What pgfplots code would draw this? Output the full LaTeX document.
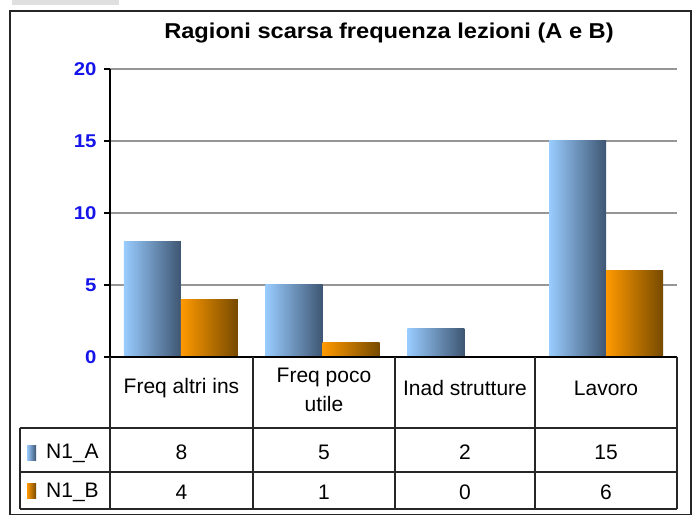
\documentclass[border=0pt]{standalone}
\usepackage{pgfplots}
\pgfplotsset{compat=1.18}
\usepackage{fontspec}
\setmainfont{Liberation Sans}
\newfontfamily\stretchfont{Liberation Sans}[FakeStretch=1.1]
\definecolor{blueL}{RGB}{153,204,255}
\definecolor{blueD}{RGB}{62,86,114}
\definecolor{orL}{RGB}{255,153,0}
\definecolor{orD}{RGB}{118,74,0}
\definecolor{tickblue}{RGB}{20,20,235}
\definecolor{gridgray}{RGB}{150,150,150}
\begin{document}
\begin{tikzpicture}[x=1pt,y=1pt]
\fill[white] (0,0) rectangle (694,516);
\fill[gray!25] (12,511) rectangle (119,516);
\draw[line width=1.8pt, black!85] (10,1.5) rectangle (691,505);
\node[font=\stretchfont\fontsize{21.5}{21.5}\selectfont\bfseries] at (389,483) {Ragioni scarsa frequenza lezioni (A e B)};
\begin{axis}[
  at={(110pt,159pt)}, anchor=south west, scale only axis,
  width=567pt, height=288pt,
  xmin=-0.5, xmax=3.5, ymin=0, ymax=20,
  axis x line=bottom, axis y line=left,
  axis line style={-, line width=1.5pt, black},
  xtick=\empty, ytick={0,5,10,15,20},
  tick align=outside, major tick length=6pt,
  ytick style={line width=1.5pt, black},
  ymajorgrids, grid style={gridgray, line width=1.5pt},
  yticklabel style={font=\stretchfont\fontsize{18.5}{18.5}\selectfont\bfseries, text=tickblue, xshift=-4pt},
  /pgf/number format/assume math mode=true,
  clip=false,
]
% N1_A
\addplot[ybar, bar width=57pt, bar shift=-28.5pt, draw=none, left color=blueL, right color=blueD] coordinates {(0,8)};
\addplot[ybar, bar width=57pt, bar shift=-28.5pt, draw=none, left color=blueL, right color=blueD] coordinates {(1,5)};
\addplot[ybar, bar width=57pt, bar shift=-28.5pt, draw=none, left color=blueL, right color=blueD] coordinates {(2,2)};
\addplot[ybar, bar width=57pt, bar shift=-28.5pt, draw=none, left color=blueL, right color=blueD] coordinates {(3,15)};
% N1_B
\addplot[ybar, bar width=57pt, bar shift=28.5pt, draw=none, left color=orL, right color=orD] coordinates {(0,4)};
\addplot[ybar, bar width=57pt, bar shift=28.5pt, draw=none, left color=orL, right color=orD] coordinates {(1,1)};
\addplot[ybar, bar width=57pt, bar shift=28.5pt, draw=none, fill=none] coordinates {(2,0)};
\addplot[ybar, bar width=57pt, bar shift=28.5pt, draw=none, left color=orL, right color=orD] coordinates {(3,6)};
\draw[line width=1.5pt, black] (axis cs:-0.5,0) -- (axis cs:3.5,0);
\end{axis}
% data table
\begin{scope}[line width=1.3pt, draw=black!85]
\draw (20,88) -- (677,88) (20,44) -- (677,44) (20,7) -- (677,7);
\draw (20,88) -- (20,7);
\foreach \x in {110,253,395,535,677} \draw (\x,159) -- (\x,7);
\end{scope}
\begin{scope}[font=\fontsize{21}{29}\selectfont]
\node at (181.5,128) {Freq altri ins};
\node[align=center] at (324,126.5) {Freq poco\\utile};
\node at (465,128) {Inad strutture};
\node at (606,128) {Lavoro};
\foreach \x/\v in {181.5/8,324/5,465/2,606/15} \node at (\x,64) {\v};
\foreach \x/\v in {181.5/4,324/1,465/0,606/6} \node at (\x,24) {\v};
\node[anchor=west, inner sep=0pt] at (46,63) {N1\_A};
\node[anchor=west, inner sep=0pt] at (46,24) {N1\_B};
\end{scope}
\shade[left color=blueL, right color=blueD] (27,55) rectangle (36,70);
\shade[left color=orL, right color=orD] (27,17) rectangle (36,32);
\pgfresetboundingbox
\path (0,0) rectangle (694,516);
\end{tikzpicture}
\end{document}
